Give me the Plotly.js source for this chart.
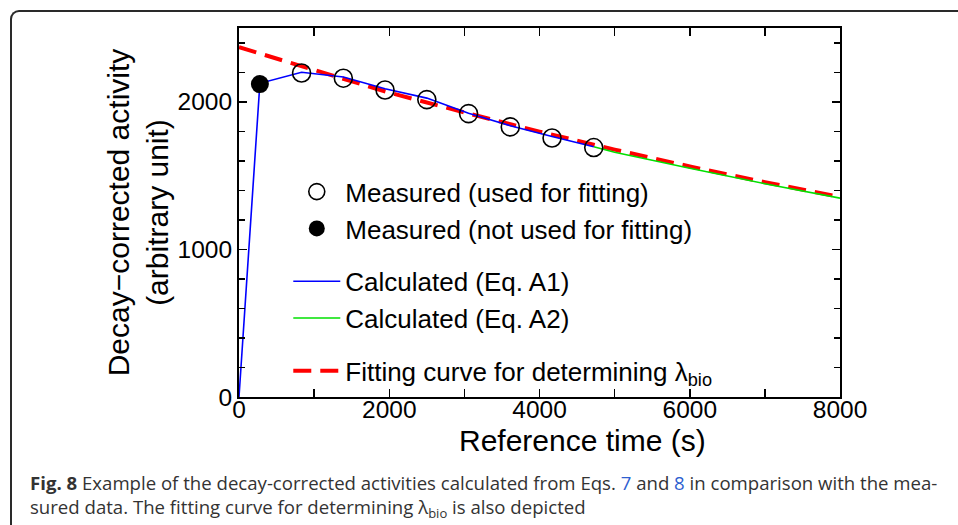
<!DOCTYPE html>
<html>
<head>
<meta charset="utf-8">
<script src="https://cdn.plot.ly/plotly-3.0.1.min.js"></script>
<style>
  html, body { margin: 0; padding: 0; background: #ffffff; overflow: hidden; }
  #wrap { position: relative; width: 958px; height: 525px; }
  #chart { position: absolute; left: 0; top: 0; width: 958px; height: 525px; }
  #frame { position: absolute; left: 10px; top: 10px; width: 960px; height: 530px;
           border-top: 2px solid #2a2a2a; border-left: 2px solid #2a2a2a;
           border-top-left-radius: 9px; pointer-events: none; }
</style>
</head>
<body>
<div id="wrap">
  <div id="chart"></div>
  <div id="frame"></div>
</div>
<script>
// ---- Data ----
// Measured points (reference time in s, decay-corrected activity)
var measuredUsedTime   = [833, 1389, 1944, 2500, 3056, 3611, 4167, 4722];
var measuredUsedValue  = [2195, 2160, 2080, 2015, 1920, 1830, 1755, 1690];
var measuredNotUsedTime  = [278];
var measuredNotUsedValue = [2120];

// Calculated (Eq. A1)
var calcA1Time  = [0, 278, 833, 1389, 1944, 2500, 3056, 3611, 4167, 4722];
var calcA1Value = [0, 2125, 2200, 2168, 2088, 2025, 1923, 1838, 1765, 1695];

// Calculated (Eq. A2)
var calcA2Time  = [4722, 5000, 6000, 7000, 8000];
var calcA2Value = [1695, 1658, 1550, 1445, 1347];

// Fitting curve for determining lambda_bio
var fitTime  = [0, 1000, 2000, 3000, 4000, 5000, 6000, 7000, 8000];
var fitValue = [2370, 2215, 2062, 1928, 1798, 1676, 1562, 1455, 1356];

// Axis tick labels
var xTickVals = [0, 2000, 4000, 6000, 8000];
var xTickText = ['0', '2000', '4000', '6000', '8000'];
var yTickVals = [0, 1000, 2000];
var yTickText = ['0', '1000', '2000'];

var FONT = '"Liberation Sans", Arial, Helvetica, sans-serif';

var traces = [
  {
    x: fitTime, y: fitValue, type: 'scatter', mode: 'lines',
    name: 'Fitting curve for determining λ<sub>bio</sub>',
    line: { color: '#ff0000', width: 4, dash: '18px,9px' },
    legendgroup: 'g3', legendrank: 5
  },
  {
    x: calcA2Time, y: calcA2Value, type: 'scatter', mode: 'lines',
    name: 'Calculated (Eq. A2)',
    line: { color: '#00e000', width: 1.6 },
    legendgroup: 'g2', legendrank: 4
  },
  {
    x: calcA1Time, y: calcA1Value, type: 'scatter', mode: 'lines',
    name: 'Calculated (Eq. A1)',
    line: { color: '#0000ff', width: 1.6 },
    legendgroup: 'g2', legendrank: 3
  },
  {
    x: measuredUsedTime, y: measuredUsedValue, type: 'scatter', mode: 'markers',
    name: 'Measured (used for fitting)',
    marker: { symbol: 'circle-open', size: 18, color: '#000000', line: { width: 1.6, color: '#000000' } },
    legendgroup: 'g1', legendrank: 1
  },
  {
    x: measuredNotUsedTime, y: measuredNotUsedValue, type: 'scatter', mode: 'markers',
    name: 'Measured (not used for fitting)',
    marker: { symbol: 'circle', size: 18, color: '#000000' },
    legendgroup: 'g1', legendrank: 2
  }
];

var axisCommon = {
  showgrid: false, zeroline: false,
  showline: true, linecolor: '#000000', linewidth: 2,
  mirror: 'ticks', ticks: 'inside', ticklen: 8, tickwidth: 1.5, tickcolor: '#000000',
  tickfont: { family: FONT, size: 24.5, color: '#000000' }
};

var layout = {
  width: 958, height: 525,
  margin: { l: 239, r: 118, t: 28, b: 128 },
  paper_bgcolor: '#ffffff', plot_bgcolor: '#ffffff',
  font: { family: FONT, color: '#000000' },
  showlegend: true,
  legend: {
    x: 0.082, y: 0.62, xanchor: 'left', yanchor: 'top',
    bgcolor: 'rgba(0,0,0,0)', borderwidth: 0,
    font: { family: FONT, size: 26, color: '#000000' },
    traceorder: 'grouped', tracegroupgap: 16, itemwidth: 47
  },
  xaxis: Object.assign({}, axisCommon, {
    range: [0, 8000],
    tickmode: 'array', tickvals: xTickVals, ticktext: xTickText,
    ticklabelstandoff: -10,
    minor: { dtick: 1000, tick0: 0, ticks: 'inside', ticklen: 8, tickwidth: 1.5, tickcolor: '#000000', showgrid: false }
  }),
  yaxis: Object.assign({}, axisCommon, {
    range: [0, 2500],
    tickmode: 'array', tickvals: yTickVals, ticktext: yTickText,
    minor: { dtick: 200, tick0: 0, ticks: 'inside', ticklen: 6, tickwidth: 1.5, tickcolor: '#000000', showgrid: false },
    title: {
      text: 'Decay\u2212corrected activity<br>(arbitrary unit)',
      font: { family: FONT, size: 30, color: '#000000' },
      standoff: 0
    }
  }),
  annotations: [
    {
      text: 'Reference time (s)',
      xref: 'paper', yref: 'paper', x: 0.571, y: -0.117,
      xanchor: 'center', yanchor: 'middle', showarrow: false,
      font: { family: FONT, size: 30, color: '#000000' }
    },
    {
      text: '<b>Fig. 8</b> Example of the decay-corrected activities calculated from Eqs. ' +
            '<span style="color:#2f5fd0">7</span> and <span style="color:#2f5fd0">8</span> ' +
            'in comparison with the mea-<br>sured data. The fitting curve for determining ' +
            'λ<sub>bio</sub> is also depicted',
      xref: 'paper', yref: 'paper', x: -0.351, y: -0.193,
      xanchor: 'left', yanchor: 'top', align: 'left', showarrow: false,
      font: { family: '"Open Sans", "Noto Sans", sans-serif', size: 18.6, color: '#333333' }
    }
  ]
};

Plotly.newPlot('chart', traces, layout, { displayModeBar: false, staticPlot: true });
</script>
</body>
</html>
